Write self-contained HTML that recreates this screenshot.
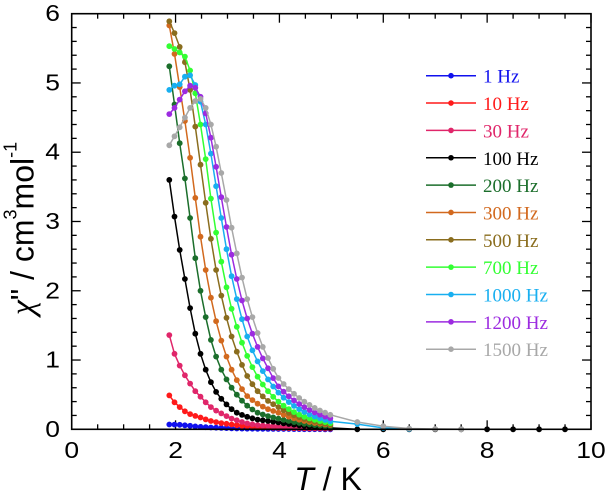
<!DOCTYPE html>
<html>
<head>
<meta charset="utf-8">
<style>
  html,body{margin:0;padding:0;background:#fff;}
  svg{display:block;}
  .tk{font-family:"Liberation Sans",Arial,sans-serif;font-size:23px;fill:#000;}
  .ttl{font-family:"Liberation Sans",Arial,sans-serif;font-size:32px;fill:#000;}
  .lg{font-family:"Liberation Serif","Times New Roman",serif;font-size:19px;}
</style>
</head>
<body>
<svg id="c" width="605" height="495" viewBox="0 0 605 495" xmlns="http://www.w3.org/2000/svg">
  <rect x="0" y="0" width="605" height="495" fill="#fff"/>
  <g id="ticks" stroke="#000" stroke-width="1.3"></g>
  <g id="data"></g>
  <rect x="71.7" y="13.7" width="519.3" height="415.6" fill="none" stroke="#000" stroke-width="1.6"/>
  <g id="labels"></g>
  <!-- axis titles -->
  <text class="ttl" transform="translate(33.5,228.5) rotate(-90)" text-anchor="middle"><tspan font-family="Liberation Serif, serif" font-style="italic" font-size="34">χ</tspan>" / cm<tspan font-size="18" dy="-17">3</tspan><tspan dy="17">mol</tspan><tspan font-size="18" dy="-17">-1</tspan></text>
  <text class="ttl" x="328" y="490" text-anchor="middle"><tspan font-style="italic">T</tspan> / K</text>
  <g id="legend"></g>
</svg>
<script>
(function(){
const NS="http://www.w3.org/2000/svg";
function el(tag,attrs,parent,txt){const e=document.createElementNS(NS,tag);for(const k in attrs)e.setAttribute(k,attrs[k]);if(txt!==undefined)e.textContent=txt;parent.appendChild(e);return e;}
const X=T=>71.7+T*51.93, Y=v=>429.3-v*69.27;

// ticks
const tg=document.getElementById('ticks');
for(let i=0;i<=20;i++){
  const T=i*0.5, x=X(T), L=(i%4===0)?9:5;
  el('line',{x1:x,y1:429.3,x2:x,y2:429.3-L},tg);
  el('line',{x1:x,y1:13.7,x2:x,y2:13.7+L},tg);
}
for(let j=0;j<=30;j++){
  const v=j*0.2, y=Y(v), L=(j%5===0)?9:5;
  el('line',{x1:71.7,y1:y,x2:71.7+L,y2:y},tg);
  el('line',{x1:591,y1:y,x2:591-L,y2:y},tg);
}
// tick labels
const lb=document.getElementById('labels');
for(let T=0;T<=10;T+=2){
  el('text',{class:'tk',transform:'translate('+X(T)+',458) scale(1.15,1)','text-anchor':'middle'},lb,String(T));
}
for(let v=0;v<=6;v++){
  el('text',{class:'tk',transform:'translate(60,'+(Y(v)+7.5)+') scale(1.15,1)','text-anchor':'end'},lb,String(v));
}

function interp(an,T){
  if(T<=an[0][0])return an[0][1];
  for(let i=1;i<an.length;i++){
    if(T<=an[i][0]+1e-9){
      const t0=an[i-1][0],v0=an[i-1][1],t1=an[i][0],v1=an[i][1];
      const f=(T-t0)/(t1-t0);
      const l0=Math.log(v0+0.005),l1=Math.log(v1+0.005);
      return Math.max(0,Math.exp(l0+f*(l1-l0))-0.005);
    }
  }
  return an[an.length-1][1];
}

const zeros=[];for(let T=5.5;T<=9.51;T+=0.5)zeros.push([T,0]);
const S=[
 {n:'1 Hz',c:'#1111ee',a:[[1.88,0.07],[1.98,0.068],[2.08,0.065],[2.28,0.05],[2.48,0.035],[2.88,0.02],[3.28,0.01],[3.98,0.005],[4.98,0.0]],e:[]},
 {n:'10 Hz',c:'#ff1a1a',a:[[1.88,0.49],[1.98,0.39],[2.08,0.32],[2.18,0.26],[2.28,0.22],[2.48,0.17],[2.68,0.12],[2.88,0.09],[3.08,0.07],[3.28,0.05],[3.58,0.035],[3.98,0.02],[4.98,0.01]],e:[]},
 {n:'30 Hz',c:'#e0266a',a:[[1.88,1.36],[1.98,1.09],[2.08,0.92],[2.18,0.78],[2.28,0.66],[2.38,0.55],[2.48,0.47],[2.58,0.39],[2.68,0.32],[2.78,0.27],[2.88,0.23],[2.98,0.19],[3.08,0.155],[3.18,0.13],[3.38,0.085],[3.58,0.06],[3.98,0.04],[4.48,0.025],[4.98,0.015]],e:[]},
 {n:'100 Hz',c:'#000000',a:[[1.88,3.60],[1.98,3.07],[2.08,2.59],[2.18,2.17],[2.28,1.75],[2.38,1.38],[2.48,1.09],[2.58,0.86],[2.68,0.68],[2.78,0.54],[2.88,0.44],[2.98,0.36],[3.08,0.29],[3.18,0.24],[3.38,0.18],[3.58,0.14],[3.78,0.12],[3.98,0.10],[4.48,0.05],[4.98,0.02]],e:zeros},
 {n:'200 Hz',c:'#1b6e2b',a:[[1.88,5.24],[1.98,4.69],[2.08,4.13],[2.18,3.62],[2.28,3.05],[2.38,2.47],[2.48,2.00],[2.58,1.62],[2.68,1.29],[2.78,1.05],[2.88,0.86],[2.98,0.72],[3.08,0.60],[3.18,0.50],[3.38,0.34],[3.58,0.24],[3.78,0.19],[3.98,0.155],[4.48,0.08],[4.98,0.04]],e:[]},
 {n:'300 Hz',c:'#d2691e',a:[[1.88,5.83],[1.98,5.42],[2.08,4.94],[2.18,4.45],[2.28,3.92],[2.38,3.34],[2.48,2.78],[2.58,2.30],[2.68,1.90],[2.78,1.56],[2.88,1.28],[2.98,1.05],[3.08,0.86],[3.18,0.71],[3.28,0.58],[3.38,0.48],[3.58,0.37],[3.78,0.29],[3.98,0.24],[4.48,0.12],[4.98,0.06]],e:[]},
 {n:'500 Hz',c:'#8a6d1e',a:[[1.88,5.89],[1.98,5.72],[2.08,5.52],[2.18,5.30],[2.28,4.90],[2.38,4.37],[2.48,3.82],[2.58,3.27],[2.68,2.75],[2.78,2.30],[2.88,1.93],[2.98,1.61],[3.08,1.34],[3.18,1.12],[3.28,0.93],[3.38,0.77],[3.58,0.55],[3.78,0.41],[3.98,0.32],[4.48,0.15],[4.98,0.07]],e:[]},
 {n:'700 Hz',c:'#33ff33',a:[[1.88,5.53],[1.98,5.49],[2.08,5.44],[2.18,5.38],[2.28,5.18],[2.38,4.85],[2.48,4.40],[2.58,3.90],[2.68,3.33],[2.78,2.84],[2.88,2.42],[2.98,2.05],[3.08,1.74],[3.18,1.48],[3.28,1.25],[3.38,1.06],[3.58,0.76],[3.78,0.55],[3.98,0.40],[4.48,0.18],[4.98,0.09]],e:[]},
 {n:'1000 Hz',c:'#18aff0',a:[[1.88,4.90],[1.98,4.96],[2.08,4.98],[2.18,5.09],[2.28,5.11],[2.38,4.97],[2.48,4.73],[2.58,4.40],[2.68,3.98],[2.78,3.51],[2.88,3.05],[2.98,2.60],[3.08,2.21],[3.18,1.88],[3.28,1.59],[3.38,1.34],[3.48,1.14],[3.58,0.98],[3.78,0.72],[3.98,0.53],[4.48,0.25],[4.98,0.115]],e:[[5.5,0.075],[6.0,0.02],[6.5,0.004]]},
 {n:'1200 Hz',c:'#9c2be0',a:[[1.88,4.55],[1.98,4.64],[2.08,4.76],[2.18,4.88],[2.28,4.96],[2.38,4.93],[2.48,4.80],[2.58,4.56],[2.68,4.21],[2.78,3.79],[2.88,3.35],[2.98,2.92],[3.08,2.52],[3.18,2.17],[3.28,1.86],[3.38,1.60],[3.48,1.38],[3.58,1.19],[3.78,0.88],[3.98,0.62],[4.48,0.32],[4.98,0.16]],e:[]},
 {n:'1500 Hz',c:'#a8a8a8',a:[[1.88,4.10],[1.98,4.23],[2.08,4.36],[2.18,4.50],[2.28,4.64],[2.38,4.74],[2.48,4.77],[2.58,4.64],[2.68,4.40],[2.78,4.08],[2.88,3.70],[2.98,3.31],[3.08,2.91],[3.18,2.54],[3.28,2.19],[3.38,1.88],[3.48,1.62],[3.58,1.39],[3.68,1.19],[3.78,1.03],[3.98,0.74],[4.48,0.40],[4.98,0.21]],e:[[5.5,0.105],[6.0,0.045],[6.5,0.012],[7.0,0.004],[7.5,0.0]]}
];
const dg=document.getElementById('data');
const grid=[];for(let k=0;k<=31;k++)grid.push(+(1.88+0.1*k).toFixed(2));
S.forEach(s=>{
  const pts=grid.map(T=>[T,interp(s.a,T)]).concat(s.e);
  el('polyline',{points:pts.map(p=>X(p[0]).toFixed(1)+','+Y(p[1]).toFixed(1)).join(' '),fill:'none',stroke:s.c,'stroke-width':1.5,'stroke-linejoin':'round'},dg);
  pts.forEach(p=>el('circle',{cx:X(p[0]).toFixed(1),cy:Y(p[1]).toFixed(1),r:2.9,fill:s.c},dg));
});
// legend
const lgd=document.getElementById('legend');
S.forEach((s,i)=>{
  const y=75.7+27.35*i;
  el('line',{x1:426,y1:y,x2:476,y2:y,stroke:s.c,'stroke-width':1.5},lgd);
  el('circle',{cx:451,cy:y,r:2.8,fill:s.c},lgd);
  el('text',{class:'lg',x:483,y:(y+7).toFixed(1),fill:s.c},lgd,s.n);
});
})();
</script>
</body>
</html>
